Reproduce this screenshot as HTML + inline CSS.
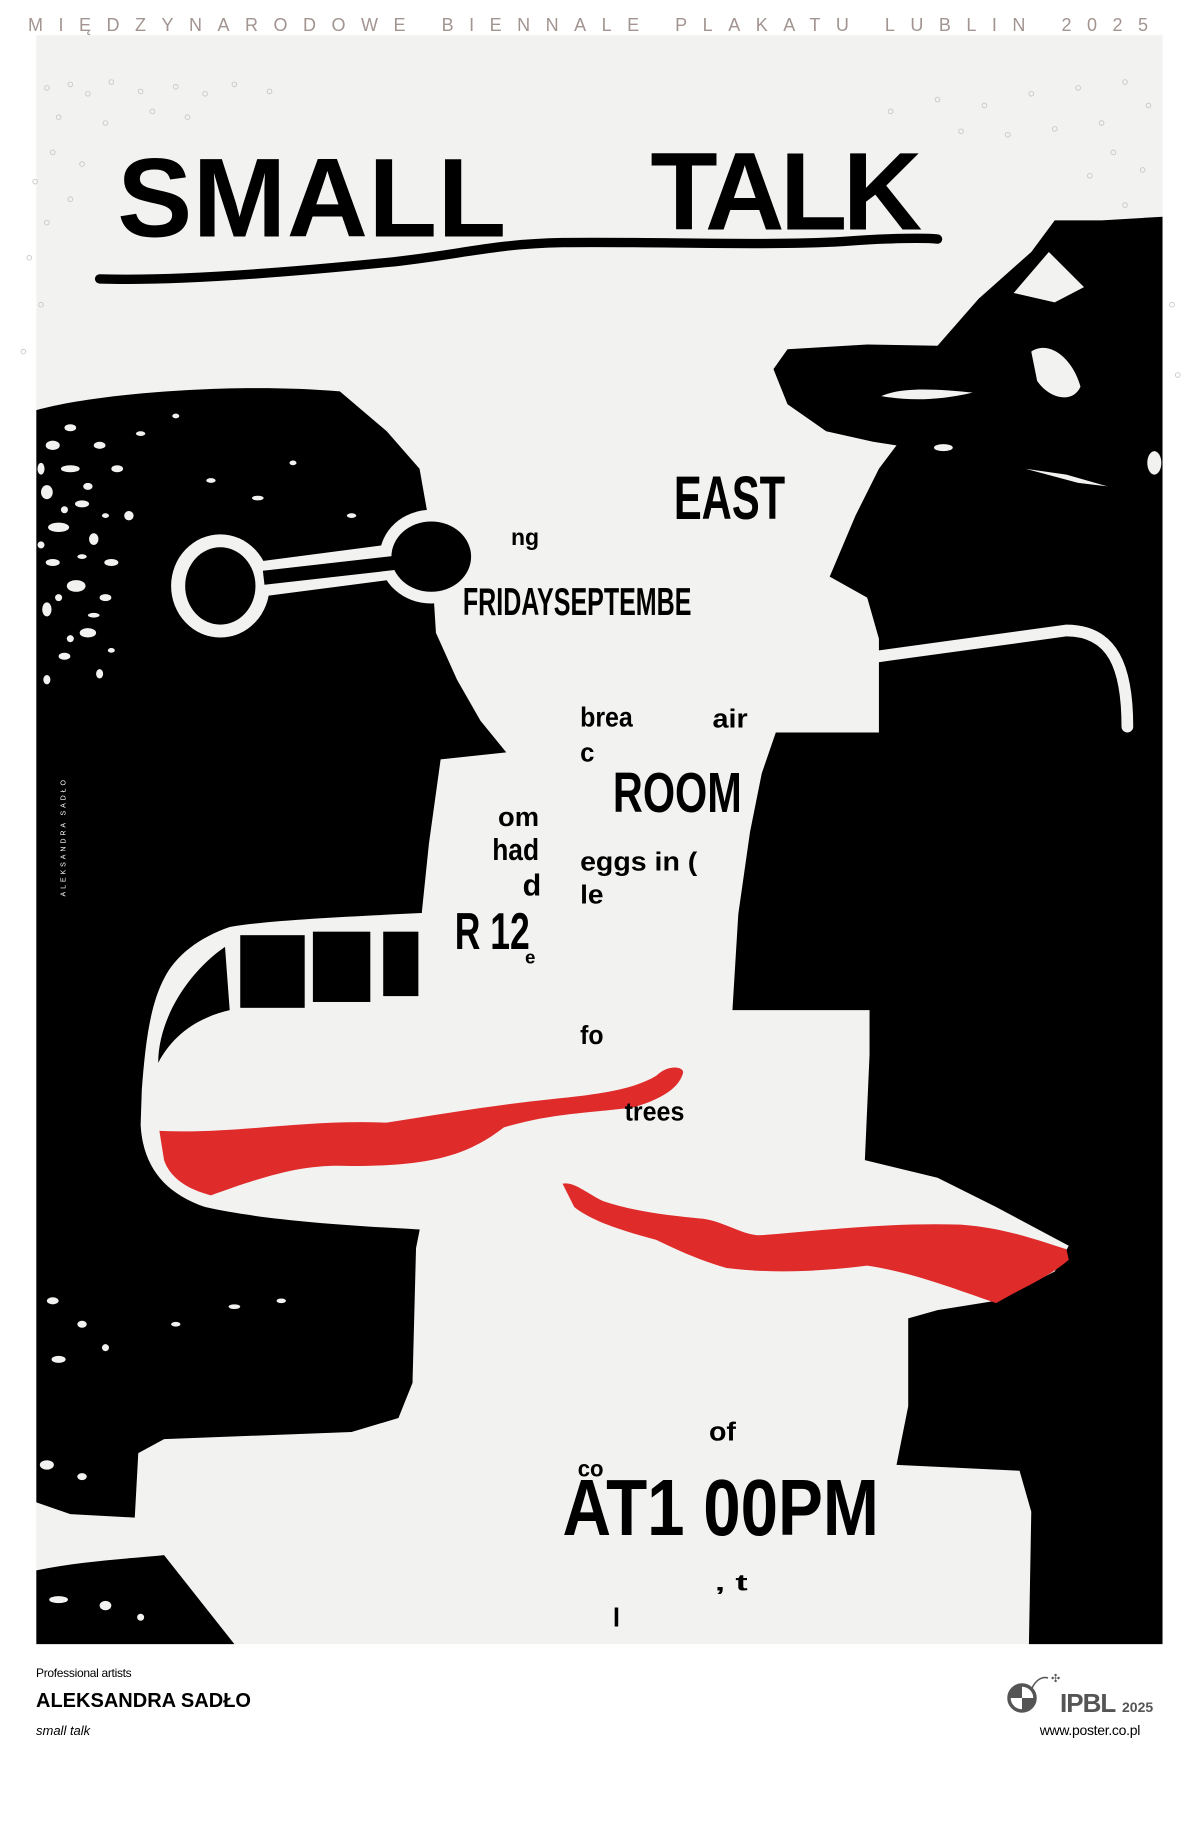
<!DOCTYPE html>
<html><head><meta charset="utf-8"><style>
html,body{margin:0;padding:0;background:#fff;width:1200px;height:1840px;overflow:hidden}
svg{display:block}
</style></head><body>
<svg width="1200" height="1840" viewBox="0 0 1200 1840" xmlns="http://www.w3.org/2000/svg">
<rect width="1200" height="1840" fill="#fff"/>
<text x="28" y="31" font-family="Liberation Sans, sans-serif" font-size="18" fill="#a29490" textLength="1120" lengthAdjust="spacing">MIĘDZYNARODOWE BIENNALE PLAKATU LUBLIN 2025</text>
<g transform="scale(1.1719)">
<rect x="31" y="30" width="961" height="1373" fill="#f2f2f0"/>
<g fill="none" stroke="#c9c9c9" stroke-width="0.8">
<circle cx="40" cy="75" r="2"/><circle cx="60" cy="72" r="2"/><circle cx="75" cy="80" r="2"/><circle cx="95" cy="70" r="2"/><circle cx="120" cy="78" r="2"/><circle cx="150" cy="74" r="2"/><circle cx="175" cy="80" r="2"/><circle cx="200" cy="72" r="2"/><circle cx="230" cy="78" r="2"/><circle cx="50" cy="100" r="2"/><circle cx="90" cy="105" r="2"/><circle cx="130" cy="95" r="2"/><circle cx="160" cy="100" r="2"/><circle cx="45" cy="130" r="2"/><circle cx="70" cy="140" r="2"/><circle cx="30" cy="155" r="2"/><circle cx="60" cy="170" r="2"/><circle cx="40" cy="190" r="2"/><circle cx="25" cy="220" r="2"/><circle cx="35" cy="260" r="2"/><circle cx="20" cy="300" r="2"/>
<circle cx="760" cy="95" r="2"/><circle cx="800" cy="85" r="2"/><circle cx="840" cy="90" r="2"/><circle cx="880" cy="80" r="2"/><circle cx="920" cy="75" r="2"/><circle cx="960" cy="70" r="2"/><circle cx="980" cy="90" r="2"/><circle cx="940" cy="105" r="2"/><circle cx="900" cy="110" r="2"/><circle cx="860" cy="115" r="2"/><circle cx="820" cy="112" r="2"/><circle cx="950" cy="130" r="2"/><circle cx="975" cy="145" r="2"/><circle cx="930" cy="150" r="2"/><circle cx="960" cy="175" r="2"/><circle cx="985" cy="200" r="2"/><circle cx="1000" cy="260" r="2"/><circle cx="1005" cy="320" r="2"/>
</g>
<text x="100" y="202" font-family="Liberation Sans Narrow, Liberation Sans, sans-serif" font-weight="bold" font-size="96" fill="#000" textLength="332" lengthAdjust="spacing">SMALL</text>
<text x="555" y="196" font-family="Liberation Sans Narrow, Liberation Sans, sans-serif" font-weight="bold" font-size="94" fill="#000" textLength="232" lengthAdjust="spacing">TALK</text>
<path d="M85,238 C150,240 250,232 330,224 C390,218 420,208 480,207 C560,206 650,210 720,206 C760,203 790,203 800,204" stroke="#000" stroke-width="8" fill="none" stroke-linecap="round"/>

<path d="M31,350 C80,336 200,326 290,334 L330,368 L358,400 L366,445 L372,540 L390,580 L410,615 L432,642 L376,648 L366,720 L360,778 L358,1050 L355,1065 L352,1180 L340,1210 L300,1222 L140,1228 L118,1240 L115,1295 L60,1292 L31,1282 Z" fill="#000"/>
<path d="M31,1340 C70,1332 110,1330 140,1327 L200,1403 L31,1403 Z" fill="#000"/>
<path d="M362,779 C300,782 230,785 196,791 C170,800 150,815 140,835 C128,858 124,890 121,930 L120,960 C122,995 140,1018 175,1030 C220,1040 280,1045 356,1049 L362,1049 Z" fill="#f2f2f0"/>
<rect x="205" y="798" width="55" height="62" fill="#000"/>
<rect x="267" y="795" width="49" height="60" fill="#000"/>
<rect x="327" y="795" width="30" height="55" fill="#000"/>
<path d="M192,808 L196,862 C170,868 148,882 135,907 C135,870 160,830 192,808Z" fill="#000"/>
<g fill="#f2f2f0">
<ellipse cx="45" cy="380" rx="6" ry="4"/><ellipse cx="60" cy="400" rx="8" ry="3"/><ellipse cx="40" cy="420" rx="5" ry="6"/><ellipse cx="70" cy="430" rx="6" ry="3"/><ellipse cx="50" cy="450" rx="9" ry="4"/><ellipse cx="80" cy="460" rx="4" ry="5"/><ellipse cx="45" cy="480" rx="6" ry="3"/><ellipse cx="65" cy="500" rx="8" ry="5"/><ellipse cx="90" cy="510" rx="5" ry="3"/><ellipse cx="40" cy="520" rx="4" ry="6"/><ellipse cx="75" cy="540" rx="7" ry="4"/><ellipse cx="100" cy="400" rx="5" ry="3"/><ellipse cx="110" cy="440" rx="4" ry="4"/><ellipse cx="95" cy="480" rx="6" ry="3"/><ellipse cx="60" cy="365" rx="5" ry="3"/><ellipse cx="120" cy="370" rx="4" ry="2"/><ellipse cx="150" cy="355" rx="3" ry="2"/><ellipse cx="180" cy="410" rx="4" ry="2"/><ellipse cx="220" cy="425" rx="5" ry="2"/><ellipse cx="250" cy="395" rx="3" ry="2"/><ellipse cx="300" cy="440" rx="4" ry="2"/><ellipse cx="55" cy="560" rx="5" ry="3"/><ellipse cx="85" cy="575" rx="3" ry="4"/>
<ellipse cx="85" cy="380" rx="5" ry="3"/><ellipse cx="35" cy="400" rx="3" ry="5"/><ellipse cx="75" cy="415" rx="4" ry="3"/><ellipse cx="55" cy="435" rx="3" ry="3"/><ellipse cx="90" cy="440" rx="3" ry="2"/><ellipse cx="35" cy="465" rx="3" ry="3"/><ellipse cx="70" cy="475" rx="4" ry="2"/><ellipse cx="50" cy="510" rx="3" ry="3"/><ellipse cx="80" cy="525" rx="5" ry="2"/><ellipse cx="60" cy="545" rx="3" ry="3"/><ellipse cx="40" cy="580" rx="3" ry="4"/><ellipse cx="95" cy="555" rx="3" ry="2"/>
<ellipse cx="45" cy="1110" rx="5" ry="3"/><ellipse cx="70" cy="1130" rx="4" ry="3"/><ellipse cx="50" cy="1160" rx="6" ry="3"/><ellipse cx="90" cy="1150" rx="3" ry="3"/><ellipse cx="40" cy="1250" rx="6" ry="4"/><ellipse cx="70" cy="1260" rx="4" ry="3"/><ellipse cx="150" cy="1130" rx="4" ry="2"/><ellipse cx="200" cy="1115" rx="5" ry="2"/><ellipse cx="240" cy="1110" rx="4" ry="2"/><ellipse cx="50" cy="1365" rx="8" ry="3"/><ellipse cx="90" cy="1370" rx="5" ry="4"/><ellipse cx="120" cy="1380" rx="3" ry="3"/>
</g>
<line x1="215" y1="495" x2="345" y2="478" stroke="#f2f2f0" stroke-width="30"/>
<ellipse cx="368" cy="475" rx="44" ry="40" fill="#f2f2f0"/>
<ellipse cx="188" cy="500" rx="42" ry="44" fill="#f2f2f0"/>
<ellipse cx="188" cy="500" rx="30" ry="33" fill="#000"/>
<line x1="225" y1="493" x2="340" y2="480" stroke="#000" stroke-width="12"/>
<ellipse cx="368" cy="475" rx="34" ry="30" fill="#000"/>
<text transform="translate(56,765) rotate(-90)" font-family="Liberation Sans, sans-serif" font-size="6" fill="#fff" letter-spacing="2.5">ALEKSANDRA SADŁO</text>

<path d="M992,185 L940,188 L900,188 L880,215 L835,255 L800,295 L740,294 L672,298 L660,315 L672,345 L705,368 L745,377 L765,380 L750,400 L730,440 L708,492 L740,510 L750,545 L750,625 L662,625 L650,660 L640,710 L630,780 L625,862 L742,862 L742,900 L738,990 L800,1005 L850,1030 L912,1063 L900,1085 L850,1110 L800,1118 L775,1125 L775,1200 L765,1250 L870,1255 L880,1290 L878,1403 L992,1403 Z" fill="#000"/>
<path d="M750,560 L910,538 C950,538 962,570 962,620" stroke="#f2f2f0" stroke-width="10" fill="none" stroke-linecap="round"/>
<g fill="#f2f2f0">
<path d="M865,250 L895,215 L925,245 L900,258 Z"/>
<path d="M880,300 C895,290 915,305 922,330 C915,345 895,340 885,325 Z"/>
<path d="M752,338 C770,330 800,332 830,335 C800,342 775,342 752,338Z"/>
<path d="M875,400 L910,405 L945,415 L920,412 Z"/>
<ellipse cx="985" cy="395" rx="6" ry="10"/>
<ellipse cx="805" cy="382" rx="8" ry="3"/>
</g>
<path d="M136,965 C200,968 260,955 330,958 C380,950 430,942 470,938 C510,934 540,930 560,918 C570,908 583,910 583,915 C580,928 565,938 540,945 C500,950 470,950 430,962 C400,985 370,995 300,995 C260,993 230,1002 180,1020 C160,1015 145,1005 140,990 Z" fill="#e02b2b"/>
<path d="M480,1010 C490,1008 500,1018 515,1025 C545,1035 580,1038 600,1040 C620,1043 635,1055 650,1054 C700,1050 760,1043 820,1045 C860,1048 890,1060 910,1066 L912,1075 C895,1090 870,1100 850,1112 C810,1098 775,1085 740,1080 C700,1085 660,1087 620,1082 C595,1075 575,1065 560,1058 C530,1050 505,1042 490,1030 Z" fill="#e02b2b"/>

<g font-family="Liberation Sans Narrow, Liberation Sans, sans-serif" font-weight="bold" fill="#000">
<text x="575" y="443" font-size="52" textLength="95" lengthAdjust="spacingAndGlyphs">EAST</text>
<text x="436" y="465" font-size="20" textLength="24" lengthAdjust="spacingAndGlyphs">ng</text>
<text x="395" y="525" font-size="33" textLength="195" lengthAdjust="spacingAndGlyphs">FRIDAYSEPTEMBE</text>
<text x="495" y="620" font-size="24" textLength="45" lengthAdjust="spacingAndGlyphs">brea</text>
<text x="608" y="621" font-size="22" textLength="30" lengthAdjust="spacingAndGlyphs">air</text>
<text x="495" y="650" font-size="22">c</text>
<text x="523" y="693" font-size="48" textLength="110" lengthAdjust="spacingAndGlyphs">ROOM</text>
<text x="425" y="705" font-size="22" textLength="35" lengthAdjust="spacingAndGlyphs">om</text>
<text x="420" y="734" font-size="26" textLength="40" lengthAdjust="spacingAndGlyphs">had</text>
<text x="446" y="764" font-size="26">d</text>
<text x="388" y="810" font-size="44" textLength="64" lengthAdjust="spacingAndGlyphs">R 12</text>
<text x="448" y="822" font-size="16">e</text>
<text x="495" y="743" font-size="22" textLength="100" lengthAdjust="spacingAndGlyphs">eggs in (</text>
<text x="495" y="771" font-size="22" textLength="20" lengthAdjust="spacingAndGlyphs">le</text>
<text x="495" y="891" font-size="22" textLength="20" lengthAdjust="spacingAndGlyphs">fo</text>
<text x="533" y="956" font-size="22" textLength="51" lengthAdjust="spacingAndGlyphs">trees</text>
<text x="605" y="1229" font-size="22" textLength="23" lengthAdjust="spacingAndGlyphs">of</text>
<text x="493" y="1260" font-size="20" textLength="22" lengthAdjust="spacingAndGlyphs">co</text>
<text x="480" y="1310" font-size="68" textLength="270" lengthAdjust="spacingAndGlyphs">AT1 00PM</text>
<text x="610" y="1357" font-size="20" textLength="28" lengthAdjust="spacingAndGlyphs">, t</text>
<text x="523" y="1388" font-size="22">l</text>
</g>
</g>
<g font-family="Liberation Sans, sans-serif">
<text x="36" y="1677" font-size="12" fill="#000" letter-spacing="-0.3">Professional artists</text>
<text x="36" y="1707" font-size="20" font-weight="bold" fill="#000" textLength="215" lengthAdjust="spacingAndGlyphs">ALEKSANDRA SADŁO</text>
<text x="36" y="1735" font-size="13" font-style="italic" fill="#000">small talk</text>
<text x="1140" y="1735" font-size="14" fill="#000" text-anchor="end" letter-spacing="-0.3">www.poster.co.pl</text>
<circle cx="1022" cy="1698" r="13" fill="none" stroke="#555" stroke-width="3.5"/>
<path d="M1022,1698 L1022,1685 A13,13 0 0,0 1009,1698 Z M1022,1698 L1035,1698 A13,13 0 0,1 1022,1711 Z" fill="#555"/>
<path d="M1032,1688 C1036,1680 1042,1676 1048,1678" stroke="#555" stroke-width="1.5" fill="none"/>
<text x="1051" y="1682" font-size="11" fill="#555">✣</text>
<text x="1060" y="1712" font-size="26" font-weight="bold" fill="#555" letter-spacing="-1">IPBL</text>
<text x="1122" y="1712" font-size="14" font-weight="bold" fill="#555">2025</text>
</g>
</svg>
</body></html>
